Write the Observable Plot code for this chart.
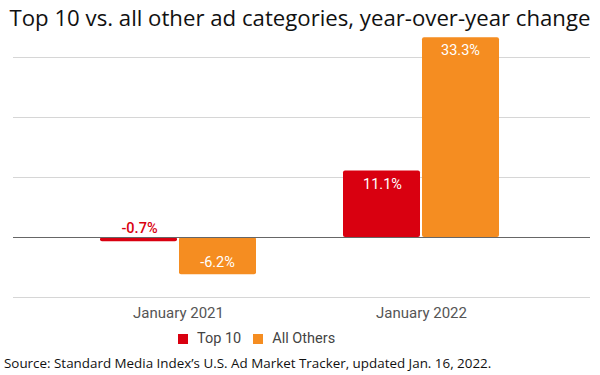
<!DOCTYPE html>
<html><head><meta charset="utf-8">
<script src="https://cdn.jsdelivr.net/npm/d3@7"></script>
<script src="https://cdn.jsdelivr.net/npm/@observablehq/plot@0.6"></script>
<style>
body{margin:0;background:#fff;width:600px;height:375px;overflow:hidden;position:relative;}
#title{position:absolute;left:0;width:600px;text-align:center;font-family:"Open Sans";font-size:22.2px;color:#111;line-height:26px;top:5px;white-space:nowrap;}
#chart{position:absolute;left:0;top:33px;}
#legend{position:absolute;left:178px;top:330px;font-family:Roboto;font-size:14.5px;color:#444;display:flex;align-items:center;}
#legend span.sw{display:inline-block;width:10px;height:10px;margin-right:9px;}
#caption{position:absolute;left:4px;top:354px;font-family:"Open Sans";font-size:13.4px;color:#111;white-space:nowrap;}
</style></head>
<body>
<div id="title">Top 10 vs. all other ad categories, year-over-year change</div>
<div id="chart"></div>
<div id="legend"></div>
<div id="caption">Source: Standard Media Index’s U.S. Ad Market Tracker, updated Jan. 16, 2022.</div>
<script>
const periods = ["January 2021", "January 2022"];
const seriesNames = ["Top 10", "All Others"];
const top10 = [-0.7, 11.1];
const allOthers = [-6.2, 33.3];
const colors = ["#d90010", "#f58d21"];
const gridTicks = [-10, 10, 20, 30];

const rowsTop = periods.map((p, i) => ({period: p, series: seriesNames[0], value: top10[i]}));
const rowsOther = periods.map((p, i) => ({period: p, series: seriesNames[1], value: allOthers[i]}));
const fmt = v => v.toFixed(1) + "%";

const half = 79;   // half-band inset (px)
const off = 39;    // label offset to bar centre (px)

function labels(rows, dx, color) {
  const pos = rows.filter(d => d.value >= 3), neg = rows.filter(d => d.value <= -3), small = rows.filter(d => Math.abs(d.value) < 3);
  return [
    Plot.text(pos, {x: "period", y: "value", text: d => fmt(d.value), fill: "white", fontSize: 14.5, dx, dy: 13}),
    Plot.text(neg, {x: "period", y: "value", text: d => fmt(d.value), fill: "white", fontSize: 14.5, dx, dy: -12}),
    Plot.text(small, {x: "period", y: 0, text: d => fmt(d.value), fill: color, stroke: "white", strokeWidth: 3, fontSize: 14.5, fontWeight: 500, dx, dy: -9})
  ];
}

const chart = Plot.plot({
  width: 600,
  height: 290,
  marginTop: 0,
  marginBottom: 26,
  marginLeft: 13,
  marginRight: 10,
  style: {fontFamily: "Roboto", background: "transparent"},
  x: {domain: periods, paddingInner: 0.358, paddingOuter: 0.362, align: 0.488, label: null, tickSize: 0, tickPadding: 10},
  y: {domain: [-10, 34], axis: null},
  marks: [
    Plot.ruleY(gridTicks, {stroke: "#d6d6d6", strokeWidth: 1}),
    Plot.barY(rowsTop, {x: "period", y: "value", fill: colors[0], insetRight: half, rx: 2}),
    Plot.barY(rowsOther, {x: "period", y: "value", fill: colors[1], insetLeft: half, rx: 2}),
    Plot.ruleY([0], {stroke: "#666", strokeWidth: 1}),
    ...labels(rowsTop, -off, colors[0]),
    ...labels(rowsOther, off, colors[1])
  ]
});
document.getElementById("chart").appendChild(chart);

const ax = chart.querySelector("g[aria-label='x-axis tick label']");
if (ax) { ax.setAttribute("font-size", "15"); ax.setAttribute("fill", "#555"); }

// legend
const lg = document.getElementById("legend");
seriesNames.forEach((s, i) => {
  const item = document.createElement("span");
  item.style.display = "inline-flex";
  item.style.alignItems = "center";
  item.style.marginRight = "12px";
  item.innerHTML = `<span class="sw" style="background:${colors[i]}"></span><span>${s}</span>`;
  lg.appendChild(item);
});
</script>
</body></html>
